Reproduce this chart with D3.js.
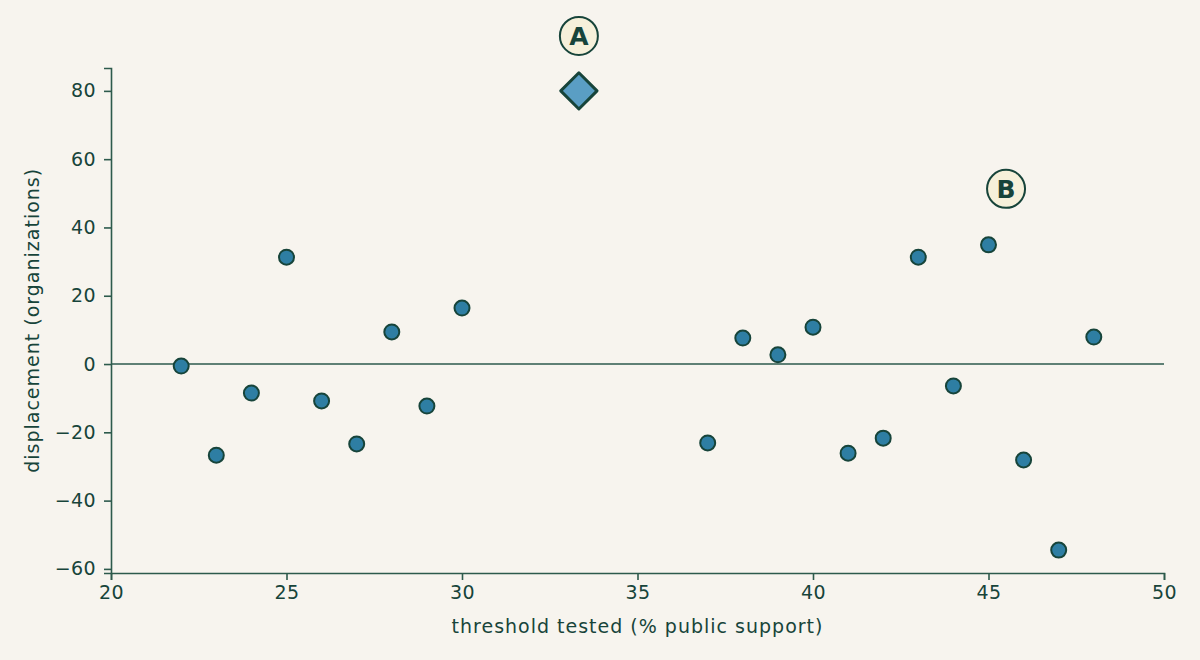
<!DOCTYPE html>
<html>
<head>
<meta charset="utf-8">
<script src="https://cdn.jsdelivr.net/npm/d3@7"></script>
<style>
    body { margin: 0; background: #f7f4ee; }
    svg text { font-family: "DejaVu Sans", sans-serif; fill: #17443a; }
</style>
</head>
<body>
<div id="chart"></div>
<script>
//scatter data: threshold vs displacement
var thresholds = [22, 23, 24, 25, 26, 27, 28, 29, 30, 37, 38, 39, 40, 41, 42, 43, 44, 45, 46, 47, 48];
var displacement = [-0.6, -26.7, -8.5, 31.3, -10.8, -23.4, 9.4, -12.3, 16.4, -23.1, 7.6, 2.7, 10.8, -26.1, -21.7, 31.3, -6.4, 34.9, -28.1, -54.5, 7.9];
//highlighted point and annotation markers
var diamondPoint = [33.33, 80];
var markerLabels = ["A", "B"];
var markerX = [33.33, 45.5];
var markerY = [96.1, 51.3];
var xTicks = [20, 25, 30, 35, 40, 45, 50];
var yTicks = [-60, -40, -20, 0, 20, 40, 60, 80];

(function(){
    var width = 1200, height = 660;
    var margin = {top: 68, right: 36, bottom: 87, left: 111};
    var dark = "#17443a";

    var svg = d3.select("#chart").append("svg")
        .attr("width", width)
        .attr("height", height)
        .style("background", "#f7f4ee");

    var x = d3.scaleLinear().domain([20, 50]).range([margin.left, width - margin.right]);
    var y = d3.scaleLinear().domain([-61.2, 86.7]).range([height - margin.bottom, margin.top]);

    //axes
    var xAxis = svg.append("g")
        .attr("transform", "translate(0," + (height - margin.bottom) + ")")
        .call(d3.axisBottom(x).tickValues(xTicks).tickSize(7).tickPadding(6));
    var yAxis = svg.append("g")
        .attr("transform", "translate(" + margin.left + ",0)")
        .call(d3.axisLeft(y).tickValues(yTicks).tickSize(7).tickPadding(8));

    [xAxis, yAxis].forEach(function(g){
        g.selectAll("path, line").attr("stroke", "#2d5a4c").attr("stroke-width", 1.6);
        g.selectAll("text")
            .style("font-size", "19px")
            .style("letter-spacing", "0.4px")
            .attr("fill", dark);
    });

    //zero line
    svg.append("line")
        .attr("x1", x(20)).attr("x2", x(50))
        .attr("y1", y(0)).attr("y2", y(0))
        .attr("stroke", "#2d5a4c")
        .attr("stroke-width", 1.5);

    //axis titles
    svg.append("text")
        .attr("x", x(35))
        .attr("y", 633)
        .attr("text-anchor", "middle")
        .style("font-size", "19px")
        .style("letter-spacing", "1px")
        .text("threshold tested (% public support)");
    svg.append("text")
        .attr("transform", "translate(39," + y(12.8) + ") rotate(-90)")
        .attr("text-anchor", "middle")
        .style("font-size", "19px")
        .style("letter-spacing", "1px")
        .text("displacement (organizations)");

    //points
    svg.selectAll(".pt")
        .data(thresholds)
        .enter().append("circle")
        .attr("class", "pt")
        .attr("cx", function(d){ return x(d); })
        .attr("cy", function(d, i){ return y(displacement[i]); })
        .attr("r", 7.5)
        .attr("fill", "#2e7ea3")
        .attr("stroke", dark)
        .attr("stroke-width", 2);

    //diamond
    svg.append("path")
        .attr("d", d3.symbol().type(d3.symbolDiamond2).size(840))
        .attr("transform", "translate(" + x(diamondPoint[0]) + "," + y(diamondPoint[1]) + ")")
        .attr("fill", "#5a9ec4")
        .attr("stroke", dark)
        .attr("stroke-width", 3)
        .attr("stroke-linejoin", "round");

    //annotation markers
    var marks = svg.selectAll(".mark")
        .data(markerLabels)
        .enter().append("g")
        .attr("class", "mark")
        .attr("transform", function(d, i){ return "translate(" + x(markerX[i]) + "," + y(markerY[i]) + ")"; });
    marks.append("circle")
        .attr("r", 19)
        .attr("fill", "#f6f0da")
        .attr("stroke", dark)
        .attr("stroke-width", 2);
    marks.append("text")
        .attr("text-anchor", "middle")
        .attr("dy", "0.36em")
        .style("font-size", "25px")
        .style("font-weight", "bold")
        .text(function(d){ return d; });
})()
</script>
</body>
</html>
